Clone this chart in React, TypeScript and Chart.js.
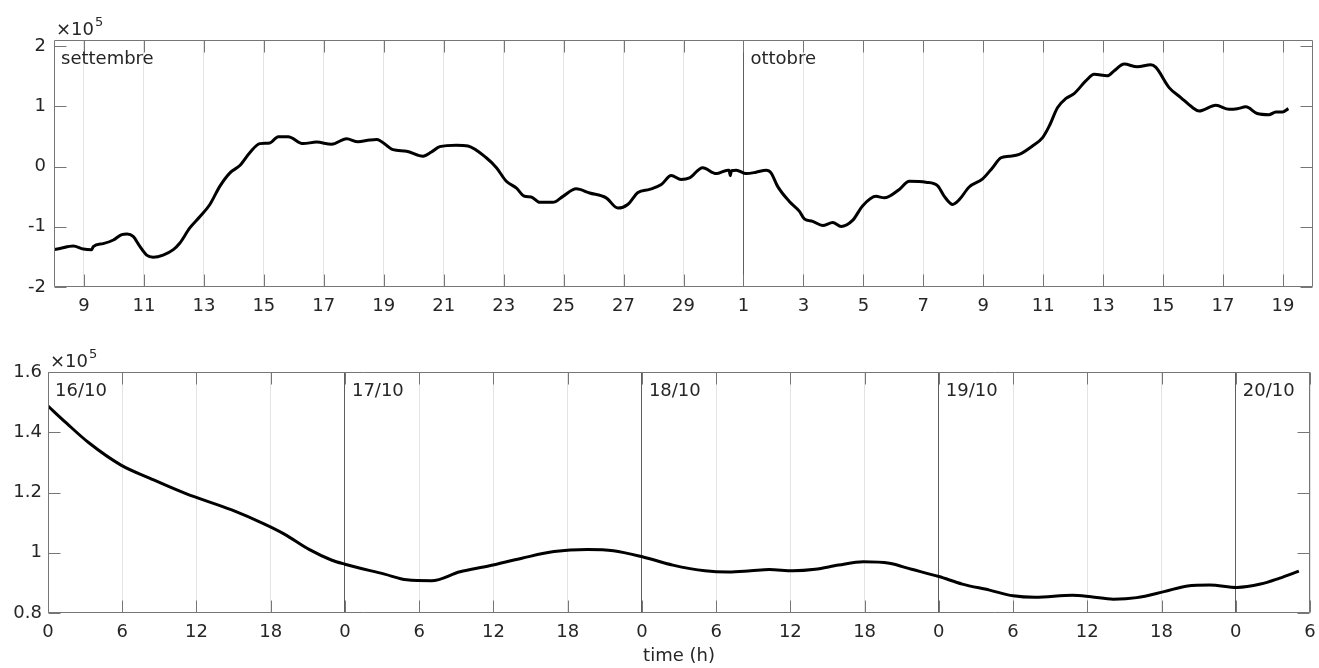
import React, { useEffect, useRef } from 'react';
import { Chart, registerables } from 'chart.js';

Chart.register(...registerables);

// ---------------- Data: top panel (days counted from 0 settembre; 31 = 1 ottobre) ----------------
const topDays = [
  8.0, 8.2, 8.64, 8.98, 9.26, 9.31, 9.64, 9.98, 10.26, 10.44, 10.64, 10.87, 11.09, 11.31, 11.64, 11.98,
  12.2, 12.53, 12.87, 13.2, 13.53, 13.87, 14.2, 14.53, 14.87, 15.2, 15.48, 15.81, 16.31, 16.76, 17.26,
  17.76, 18.14, 18.53, 18.76, 19.31, 19.76, 20.31, 20.59, 20.87, 21.42, 21.81, 22.42, 22.76, 23.09,
  23.42, 23.7, 23.92, 24.2, 24.64, 24.98, 25.42, 25.87, 26.42, 26.81, 27.14, 27.48, 27.87, 28.26,
  28.59, 28.92, 29.2, 29.64, 30.09, 30.48, 30.52, 30.56, 30.6, 30.76, 31.09, 31.42, 31.76, 31.92,
  32.14, 32.53, 32.87, 33.03, 33.31, 33.64, 33.98, 34.26, 34.64, 34.98, 35.42, 35.7, 36.2, 36.53,
  37.09, 37.48, 37.7, 37.98, 38.2, 38.53, 38.98, 39.31, 39.59, 39.87, 40.2, 40.64, 40.98, 41.2, 41.48,
  41.76, 42.03, 42.42, 42.7, 43.14, 43.37, 43.7, 44.14, 44.59, 44.76, 45.2, 45.59, 45.98, 46.2, 46.76,
  47.2, 47.48, 47.76, 48.14, 48.53, 48.76, 48.98, 49.18,
];
const topValues = [
  -1.38, -1.36, -1.32, -1.37, -1.38, -1.33, -1.28, -1.22, -1.13, -1.12, -1.16, -1.33, -1.47, -1.505, -1.47, -1.38,
  -1.27, -1.02, -0.83, -0.63, -0.33, -0.105, 0.017, 0.23, 0.38, 0.39, 0.495, 0.495, 0.38, 0.405, 0.37,
  0.46, 0.41, 0.44, 0.45, 0.28, 0.255, 0.17, 0.24, 0.33, 0.355, 0.34, 0.145, -0.02, -0.245,
  -0.355, -0.495, -0.505, -0.595, -0.595, -0.495, -0.37, -0.44, -0.52, -0.69, -0.63, -0.43, -0.38, -0.3,
  -0.15, -0.217, -0.19, -0.02, -0.117, -0.06, -0.06, -0.15, -0.07, -0.06, -0.117, -0.095, -0.06, -0.105,
  -0.33, -0.58, -0.745, -0.87, -0.91, -0.98, -0.93, -0.995, -0.895, -0.65, -0.495, -0.52, -0.38, -0.245,
  -0.26, -0.32, -0.495, -0.63, -0.55, -0.34, -0.205, -0.02, 0.145, 0.17, 0.2, 0.34, 0.48, 0.67, 0.98,
  1.13, 1.21, 1.42, 1.53, 1.505, 1.59, 1.7, 1.655, 1.69, 1.645, 1.31, 1.145, 0.98, 0.92, 1.017,
  0.95, 0.96, 0.99, 0.88, 0.86, 0.905, 0.905, 0.96,
];
const topTickDays = [9, 11, 13, 15, 17, 19, 21, 23, 25, 27, 29, 31, 33, 35, 37, 39, 41, 43, 45, 47, 49];
const topTickLabels = ['9', '11', '13', '15', '17', '19', '21', '23', '25', '27', '29', '1', '3', '5', '7', '9', '11', '13', '15', '17', '19'];
const topYTicks = [-2, -1, 0, 1, 2];
const topYLabels = ['-2', '-1', '0', '1', '2'];
const topMarkerDays = [8, 31];
const topMarkerLabels = ['settembre', 'ottobre'];

// ---------------- Data: bottom panel (hours from 16/10 00:00) ----------------
const bottomHours = [
  0, 1.5, 3.3, 5.9, 8.25, 11.1, 14.85, 17.5, 19.1, 21.1, 22.9, 24.0, 27.2, 29.0, 31.0, 33.3, 35.6,
  38.3, 40.9, 43.6, 45.7, 48.1, 50.5, 53.1, 55.0, 56.8, 58.3, 60.2, 62.0, 63.9, 65.9, 68.0, 69.8,
  72.0, 73.9, 76.1, 78.0, 79.8, 82.8, 84.3, 86.1, 88.0, 90.2, 92.1, 93.9, 96.1, 98.0, 99.5, 101.1,
];
const bottomValues = [
  1.487, 1.43, 1.365, 1.291, 1.247, 1.197, 1.142, 1.095, 1.062, 1.011, 0.976, 0.962, 0.929, 0.91, 0.907, 0.937, 0.956,
  0.982, 1.004, 1.011, 1.007, 0.986, 0.959, 0.94, 0.936, 0.94, 0.944, 0.94, 0.945, 0.959, 0.97, 0.965, 0.945,
  0.921, 0.896, 0.876, 0.857, 0.852, 0.859, 0.854, 0.846, 0.851, 0.871, 0.89, 0.893, 0.885, 0.896, 0.915, 0.939,
];
const bottomTickHours = [0, 6, 12, 18, 24, 30, 36, 42, 48, 54, 60, 66, 72, 78, 84, 90, 96, 102];
const bottomTickLabels = ['0', '6', '12', '18', '0', '6', '12', '18', '0', '6', '12', '18', '0', '6', '12', '18', '0', '6'];
const bottomYTicks = [0.8, 1.0, 1.2, 1.4, 1.6];
const bottomYLabels = ['0.8', '1', '1.2', '1.4', '1.6'];
const bottomMarkerHours = [0, 24, 48, 72, 96];
const bottomMarkerLabels = ['16/10', '17/10', '18/10', '19/10', '20/10'];

// ---------------- Styling ----------------
const FONT_FAMILY = "'DejaVu Sans', sans-serif";
const TEXT_COLOR = '#262626';
const BOX_COLOR = '#767676';
const GRID_COLOR = '#e3e3e3';
const SEP_COLOR = '#5e5e5e';
const TICK_LEN = 12;

const matlabPlugin = {
  id: 'matlabBox',
  afterDraw(chart: any, _args: any, opts: any) {
    const { ctx, chartArea: a, scales } = chart;
    const xs = scales.x;
    const ys = scales.y;
    ctx.save();
    ctx.strokeStyle = BOX_COLOR;
    ctx.lineWidth = 1;
    const L = Math.round(a.left) + 0.5;
    const R = Math.round(a.right) - 0.5;
    const T = Math.round(a.top) + 0.5;
    const B = Math.round(a.bottom) - 0.5;
    ctx.beginPath();
    ctx.rect(L, T, R - L, B - T);
    xs.ticks.forEach((t: any) => {
      const px = Math.round(xs.getPixelForValue(t.value)) + 0.5;
      ctx.moveTo(px, B);
      ctx.lineTo(px, B - TICK_LEN);
      ctx.moveTo(px, T);
      ctx.lineTo(px, T + TICK_LEN);
    });
    ys.ticks.forEach((t: any) => {
      const py = Math.round(ys.getPixelForValue(t.value)) + 0.5;
      ctx.moveTo(L, py);
      ctx.lineTo(L + TICK_LEN, py);
      ctx.moveTo(R, py);
      ctx.lineTo(R - TICK_LEN, py);
    });
    ctx.stroke();

    // Annotations (month / date labels)
    ctx.fillStyle = TEXT_COLOR;
    ctx.textAlign = 'left';
    ctx.textBaseline = 'alphabetic';
    ctx.font = `18px ${FONT_FAMILY}`;
    (opts.markers || []).forEach((m: number, i: number) => {
      ctx.fillText(opts.labels[i], xs.getPixelForValue(m) + 7, a.top + 24);
    });

    // Exponent label  ×10^5
    const base = '\u00d710';
    const bx = a.left + 2;
    const by = a.top - 5;
    ctx.fillText(base, bx, by);
    const w = ctx.measureText(base).width;
    ctx.font = `13px ${FONT_FAMILY}`;
    ctx.fillText('5', bx + w + 1, by - 9);
    ctx.restore();
  },
};

function buildConfig(p: any) {
  return {
    type: 'line',
    data: {
      datasets: [
        {
          data: p.xs.map((x: number, i: number) => ({ x, y: p.ys[i] })),
          borderColor: '#000000',
          borderWidth: 3,
          pointRadius: 0,
          fill: false,
          cubicInterpolationMode: 'monotone',
        },
      ],
    },
    plugins: [matlabPlugin],
    options: {
      responsive: false,
      animation: false,
      events: [],
      devicePixelRatio: 1,
      layout: { padding: { left: 0, right: p.padRight, top: p.padTop, bottom: 0 } },
      plugins: {
        legend: { display: false },
        tooltip: { enabled: false },
        matlabBox: { markers: p.markers, labels: p.markerLabels },
      },
      scales: {
        x: {
          type: 'linear',
          min: p.xMin,
          max: p.xMax,
          afterBuildTicks: (s: any) => {
            s.ticks = p.xTicks.map((v: number) => ({ value: v }));
          },
          afterFit: (s: any) => {
            s.height = p.xHeight;
            s.paddingLeft = 0;
            s.paddingRight = 0;
          },
          ticks: {
            autoSkip: false,
            maxRotation: 0,
            padding: 9,
            color: TEXT_COLOR,
            font: { family: FONT_FAMILY, size: 18 },
            callback: (v: number) => {
              const i = p.xTicks.indexOf(v);
              return i >= 0 ? p.xLabels[i] : '';
            },
          },
          grid: {
            drawTicks: false,
            lineWidth: 1,
            color: (c: any) =>
              c.tick && p.markers.indexOf(c.tick.value) >= 0 && c.tick.value !== p.xMin ? SEP_COLOR : GRID_COLOR,
          },
          border: { display: false },
          title: p.title
            ? {
                display: true,
                text: p.title,
                color: TEXT_COLOR,
                font: { family: FONT_FAMILY, size: 18 },
                padding: { top: 0, bottom: 1 },
              }
            : { display: false },
        },
        y: {
          type: 'linear',
          min: p.yMin,
          max: p.yMax,
          afterBuildTicks: (s: any) => {
            s.ticks = p.yTicks.map((v: number) => ({ value: v }));
          },
          afterFit: (s: any) => {
            s.width = p.yWidth;
            s.paddingTop = 0;
            s.paddingBottom = 0;
          },
          ticks: {
            padding: p.yPad,
            color: TEXT_COLOR,
            font: { family: FONT_FAMILY, size: 18 },
            callback: (v: number) => {
              const i = p.yTicks.findIndex((t: number) => Math.abs(t - v) < 1e-9);
              return i >= 0 ? p.yLabels[i] : '';
            },
          },
          grid: { display: false, drawTicks: false },
          border: { display: false },
        },
      },
    },
  };
}

function Panel(props: { cfg: any; top: number }) {
  const ref = useRef<HTMLCanvasElement | null>(null);
  useEffect(() => {
    if (!ref.current) return;
    const chart = new Chart(ref.current, buildConfig(props.cfg) as any);
    return () => chart.destroy();
  }, []);
  return (
    <canvas
      ref={ref}
      width={1319}
      height={334}
      style={{ position: 'absolute', left: 0, top: props.top, width: 1319, height: 334, display: 'block' }}
    />
  );
}

const topCfg = {
  xs: topDays,
  ys: topValues,
  xMin: 8,
  xMax: 50,
  xTicks: topTickDays,
  xLabels: topTickLabels,
  yMin: -2,
  yMax: 2.1,
  yTicks: topYTicks,
  yLabels: topYLabels,
  markers: topMarkerDays,
  markerLabels: topMarkerLabels,
  padRight: 6,
  padTop: 40,
  xHeight: 47,
  yWidth: 54,
  yPad: 8,
  title: '',
};

const bottomCfg = {
  xs: bottomHours,
  ys: bottomValues,
  xMin: 0,
  xMax: 102,
  xTicks: bottomTickHours,
  xLabels: bottomTickLabels,
  yMin: 0.8,
  yMax: 1.6,
  yTicks: bottomYTicks,
  yLabels: bottomYLabels,
  markers: bottomMarkerHours,
  markerLabels: bottomMarkerLabels,
  padRight: 9,
  padTop: 38,
  xHeight: 55,
  yWidth: 48,
  yPad: 6,
  title: 'time (h)',
};

export default function App() {
  return (
    <div style={{ position: 'absolute', left: 0, top: 0, width: 1319, height: 668, background: '#ffffff', overflow: 'hidden' }}>
      <Panel cfg={topCfg} top={0} />
      <Panel cfg={bottomCfg} top={334} />
    </div>
  );
}
